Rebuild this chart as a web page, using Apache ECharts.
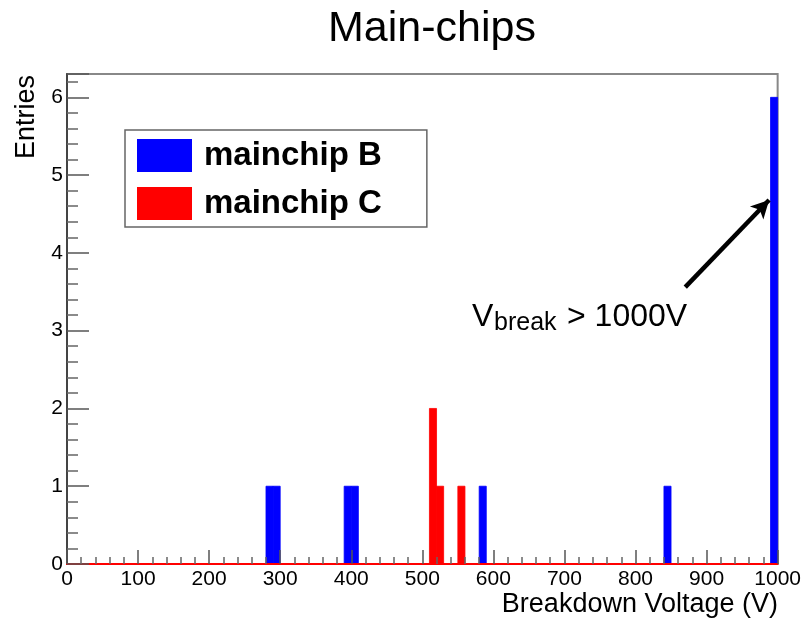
<!DOCTYPE html>
<html>
<head>
<meta charset="utf-8">
<script src="https://cdn.jsdelivr.net/npm/echarts@6/dist/echarts.min.js"></script>
<style>html,body{margin:0;padding:0;background:#fff;}#chart{width:804px;height:621px;}</style>
</head>
<body>
<div id="chart"></div>
<script>
// ---- data ----
const chartTitle = 'Main-chips';
const xAxisTitle = 'Breakdown Voltage (V)';
const yAxisTitle = 'Entries';
const binWidth = 10;
const seriesNames = ['mainchip B', 'mainchip C'];
const binsB = [280, 290, 390, 400, 580, 840, 990];   // bin lower edges (V)
const countsB = [1, 1, 1, 1, 1, 1, 6];
const binsC = [510, 520, 550];
const countsC = [2, 1, 1];
const xTicks = [0, 100, 200, 300, 400, 500, 600, 700, 800, 900, 1000];
const yTicks = [0, 1, 2, 3, 4, 5, 6];
const arrowFrom = [870, 3.56];
const arrowTo = [988, 4.68];

const FONT = '"Liberation Sans", Arial, Helvetica, sans-serif';

function histRender(color) {
  return function (params, api) {
    const x0 = api.value(0), c = api.value(1);
    const pTop = api.coord([x0, c]);
    const pBot = api.coord([x0 + binWidth, 0]);
    return {
      type: 'rect',
      shape: { x: pTop[0], y: pTop[1], width: pBot[0] - pTop[0], height: pBot[1] - pTop[1] },
      style: { fill: color, stroke: color, lineWidth: 0.8 }
    };
  };
}

const chart = echarts.init(document.getElementById('chart'), null, { renderer: 'canvas' });
const option = {
  animation: false,
  backgroundColor: '#ffffff',
  title: {
    text: chartTitle,
    left: 323, top: 3,
    textStyle: { fontFamily: FONT, fontSize: 43, fontWeight: 'normal', color: '#000' }
  },
  legend: {
    data: seriesNames,
    orient: 'vertical',
    left: 125, top: 130,
    padding: [9, 45, 7, 12],
    itemWidth: 55, itemHeight: 33, itemGap: 15,
    borderColor: '#666', borderWidth: 1.5,
    icon: 'rect',
    textStyle: { fontFamily: FONT, fontSize: 33, fontWeight: 'bold', color: '#000', lineHeight: 33, padding: [0, 0, 0, 7] }
  },
  grid: {
    left: 67, right: 26, top: 74, bottom: 57,
    show: true, borderColor: '#888', borderWidth: 2, backgroundColor: 'transparent'
  },
  xAxis: {
    type: 'value', min: 0, max: 1000, interval: 100, z: 3,
    axisLine: { show: true, lineStyle: { color: '#ff0000', width: 2 } },
    axisTick: { show: true, inside: true, length: 14, lineStyle: { color: '#555', width: 1.5 } },
    minorTick: { show: true, splitNumber: 5, length: 7, lineStyle: { color: '#666', width: 1.5 } },
    splitLine: { show: false },
    axisLabel: { margin: 5, fontFamily: FONT, fontSize: 21, color: '#000',
      formatter: v => (xTicks.indexOf(v) >= 0 ? String(v) : '') }
  },
  yAxis: {
    type: 'value', min: 0, max: 6.3, interval: 1, z: 3,
    axisLine: { show: true, lineStyle: { color: '#444', width: 2 } },
    axisTick: { show: true, inside: true, length: 22, lineStyle: { color: '#555', width: 1.5 } },
    minorTick: { show: true, splitNumber: 5, length: 11, lineStyle: { color: '#666', width: 1.5 } },
    splitLine: { show: false },
    axisLabel: { margin: 4, fontFamily: FONT, fontSize: 21, color: '#000',
      formatter: v => (yTicks.indexOf(v) >= 0 ? String(v) : '') }
  },
  series: [
    {
      name: seriesNames[0], type: 'custom', z: 2,
      itemStyle: { color: '#0000ff' },
      renderItem: histRender('#0000ff'),
      encode: { x: 0, y: 1 },
      data: binsB.map((b, i) => [b, countsB[i]])
    },
    {
      name: seriesNames[1], type: 'custom', z: 2,
      itemStyle: { color: '#ff0000' },
      renderItem: histRender('#ff0000'),
      encode: { x: 0, y: 1 },
      data: binsC.map((b, i) => [b, countsC[i]])
    },
    {
      name: 'annotation', type: 'line', data: [], z: 5,
      markLine: {
        silent: true,
        symbol: ['none', 'arrow'],
        symbolSize: [14, 18],
        label: { show: false },
        lineStyle: { color: '#000', width: 4.5, type: 'solid' },
        data: [[{ coord: arrowFrom }, { coord: arrowTo }]]
      }
    }
  ],
  graphic: [
    {
      type: 'text', x: 27, y: 75, rotation: Math.PI / 2,
      style: { text: yAxisTitle, fontFamily: FONT, fontSize: 27, fill: '#000', align: 'right', verticalAlign: 'middle' }
    },
    {
      type: 'text', x: 778, y: 605,
      style: { text: xAxisTitle, fontFamily: FONT, fontSize: 27, fill: '#000', align: 'right', verticalAlign: 'middle' }
    },
    {
      type: 'text', x: 472, y: 317,
      style: { text: 'V', fontFamily: FONT, fontSize: 32, fill: '#000', align: 'left', verticalAlign: 'middle' }
    },
    {
      type: 'text', x: 494, y: 323,
      style: { text: 'break', fontFamily: FONT, fontSize: 25, fill: '#000', align: 'left', verticalAlign: 'middle' }
    },
    {
      type: 'text', x: 567, y: 317,
      style: { text: '> 1000V', fontFamily: FONT, fontSize: 32, fill: '#000', align: 'left', verticalAlign: 'middle' }
    }
  ]
};
chart.setOption(option);
</script>
</body>
</html>
